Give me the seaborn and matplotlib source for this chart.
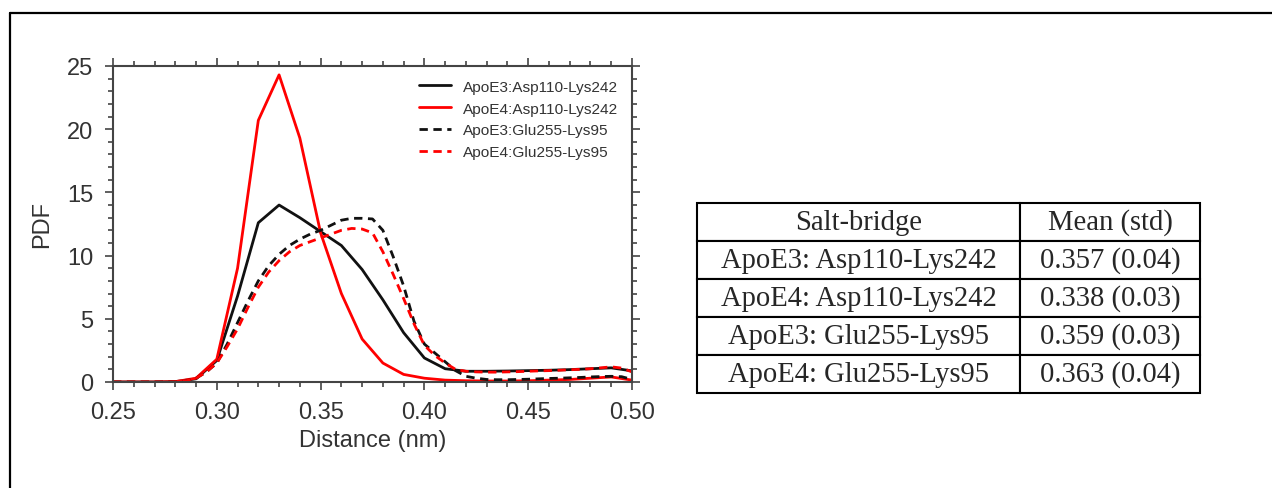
import numpy as np
import pandas as pd
import seaborn as sns
import matplotlib
matplotlib.use("Agg")
import matplotlib.pyplot as plt
from matplotlib.lines import Line2D
from matplotlib.ticker import MultipleLocator

# distances (nm)
dist_coarse = [0.25, 0.26, 0.27, 0.28, 0.29, 0.30, 0.31, 0.32, 0.33, 0.34, 0.35, 0.36, 0.37,
               0.38, 0.39, 0.40, 0.41, 0.42, 0.43, 0.44, 0.45, 0.46, 0.47, 0.48, 0.49, 0.50]
dist_fine = [0.250, 0.255, 0.260, 0.265, 0.270, 0.275, 0.280, 0.285, 0.290, 0.295,
             0.300, 0.305, 0.310, 0.315, 0.320, 0.325, 0.330, 0.335, 0.340, 0.345,
             0.350, 0.355, 0.360, 0.365, 0.370, 0.375, 0.380, 0.385, 0.390, 0.395,
             0.400, 0.405, 0.410, 0.415, 0.420, 0.425, 0.430, 0.435, 0.440, 0.445,
             0.450, 0.455, 0.460, 0.465, 0.470, 0.475, 0.480, 0.485, 0.490, 0.495, 0.500]

e3_asp110_lys242 = [0, 0, 0, 0.03, 0.25, 1.7, 6.8, 12.6, 14.0, 13.0, 11.9, 10.8, 8.9,
                    6.5, 3.9, 1.9, 1.05, 0.85, 0.85, 0.87, 0.9, 0.93, 0.98, 1.05, 1.12, 0.88]
e4_asp110_lys242 = [0, 0, 0, 0.03, 0.3, 1.8, 9.0, 20.7, 24.3, 19.3, 11.8, 7.0, 3.4,
                    1.5, 0.6, 0.3, 0.15, 0.1, 0.08, 0.08, 0.1, 0.15, 0.2, 0.3, 0.4, 0.15]
e3_glu255_lys95 = [0, 0, 0, 0, 0, 0, 0.02, 0.08, 0.3, 0.8,
                   1.5, 3.0, 4.7, 6.4, 8.0, 9.2, 10.1, 10.8, 11.3, 11.7,
                   12.0, 12.4, 12.8, 12.95, 12.95, 12.9, 12.0, 9.9, 7.6, 4.8,
                   3.0, 2.3, 1.6, 0.9, 0.45, 0.3, 0.2, 0.18, 0.18, 0.2,
                   0.22, 0.25, 0.28, 0.3, 0.33, 0.36, 0.4, 0.43, 0.45, 0.42, 0.2]
e4_glu255_lys95 = [0, 0, 0, 0, 0, 0, 0.02, 0.08, 0.3, 0.8,
                   1.5, 2.8, 4.2, 5.9, 7.5, 8.7, 9.6, 10.3, 10.8, 11.1,
                   11.4, 11.7, 12.0, 12.15, 12.1, 11.8, 10.3, 8.5, 6.6, 4.6,
                   2.9, 2.1, 1.5, 1.0, 0.85, 0.8, 0.78, 0.78, 0.8, 0.82,
                   0.85, 0.88, 0.9, 0.93, 0.97, 1.0, 1.05, 1.12, 1.2, 1.1, 0.8]

labels = ["ApoE3:Asp110-Lys242", "ApoE4:Asp110-Lys242",
          "ApoE3:Glu255-Lys95", "ApoE4:Glu255-Lys95"]
colors = ["#111111", "#ff0000", "#111111", "#ff0000"]

table_rows = ["ApoE3: Asp110-Lys242", "ApoE4: Asp110-Lys242",
              "ApoE3: Glu255-Lys95", "ApoE4: Glu255-Lys95"]
table_means = ["0.357 (0.04)", "0.338 (0.03)", "0.359 (0.03)", "0.363 (0.04)"]

frames = []
for name, xs, ys in zip(labels,
                        [dist_coarse, dist_coarse, dist_fine, dist_fine],
                        [e3_asp110_lys242, e4_asp110_lys242, e3_glu255_lys95, e4_glu255_lys95]):
    frames.append(pd.DataFrame({"dist": xs, "pdf": ys, "pair": name}))
df = pd.concat(frames, ignore_index=True)

sns.set_theme(style="ticks")
plt.rcParams["font.family"] = ["Liberation Sans", "DejaVu Sans"]

fig = plt.figure(figsize=(12.72, 4.89), dpi=100)
W, H = 1272, 489
ax = fig.add_axes([113 / W, 1 - 383 / H, 519 / W, 316 / H])

dash = (3.0, 2.0)
dash_map = {labels[0]: "", labels[1]: "", labels[2]: dash, labels[3]: dash}
sns.lineplot(data=df, x="dist", y="pdf", hue="pair", style="pair",
             palette=dict(zip(labels, colors)), dashes=dash_map,
             linewidth=2.0, estimator=None, sort=False, legend=False, ax=ax)

ax.set_xlim(0.25, 0.50)
ax.set_ylim(0, 25)
ax.xaxis.set_major_locator(MultipleLocator(0.05))
ax.xaxis.set_minor_locator(MultipleLocator(0.01))
ax.yaxis.set_major_locator(MultipleLocator(5))
ax.yaxis.set_minor_locator(MultipleLocator(1))
ax.set_xticklabels([f"{v:.2f}" for v in ax.get_xticks()])
ax.tick_params(which="both", direction="out", top=True, right=True,
               color="#444444", width=1.2, labelcolor="#333333", labelsize=17)
ax.tick_params(which="major", length=6, pad=8)
ax.tick_params(which="minor", length=3.6)
for s in ax.spines.values():
    s.set_visible(True)
    s.set_color("#444444")
    s.set_linewidth(1.5)
ax.set_xlabel("Distance (nm)", fontsize=17, color="#333333", labelpad=4)
ax.set_ylabel("PDF", fontsize=17, color="#333333", labelpad=10)

handles = [Line2D([0], [0], color=c, lw=2.0, linestyle="-" if i < 2 else (0, dash))
           for i, c in enumerate(colors)]
leg = ax.legend(handles, labels, loc="upper right", frameon=False, fontsize=11.1,
                handlelength=2.1, handletextpad=0.75, labelspacing=0.5,
                bbox_to_anchor=(1.0, 1.0))
for t in leg.get_texts():
    t.set_color("#333333")

# table of mean distances
tax = fig.add_axes([697 / W, 1 - 394 / H, 503 / W, 190 / H])
tax.axis("off")
cells = [[r, m] for r, m in zip(table_rows, table_means)]
tbl = tax.table(cellText=cells, colLabels=["Salt-bridge", "Mean (std)"],
                cellLoc="center", bbox=[0, 0, 1, 1], colWidths=[323 / 503, 180 / 503])
tbl.auto_set_font_size(False)
for (r, c), cell in tbl.get_celld().items():
    cell.set_linewidth(1.5)
    cell.set_edgecolor("black")
    cell.get_text().set_fontsize(20.6)
    cell.get_text().set_fontfamily("Liberation Serif")

# outer frame of the figure panel
fig.add_artist(Line2D([10 / W, 10 / W], [0, 1 - 14 / H], color="black", lw=1.6))
fig.add_artist(Line2D([10 / W, 1], [1 - 14 / H, 1 - 14 / H], color="black", lw=1.6))

fig.savefig("out.png", dpi=100)
